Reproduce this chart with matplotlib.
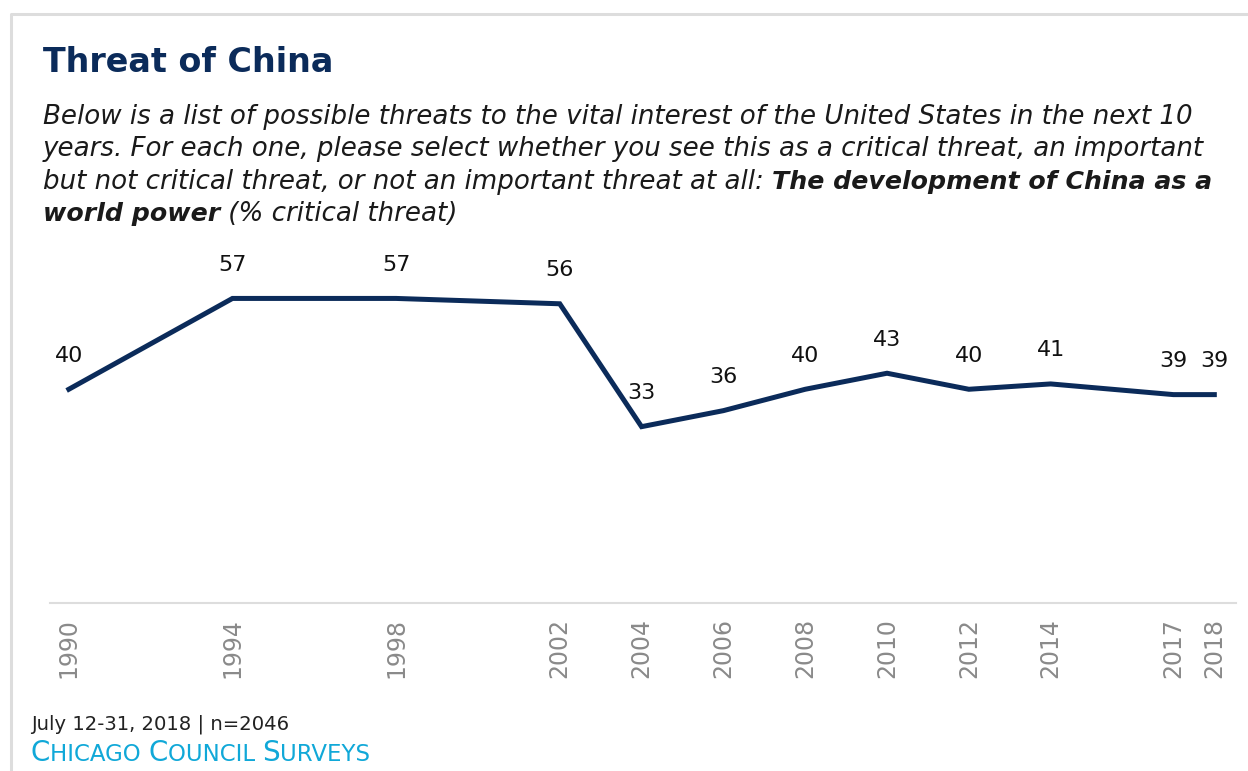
import matplotlib
matplotlib.use("Agg")
import matplotlib.pyplot as plt
from matplotlib.lines import Line2D

years = [1990, 1994, 1998, 2002, 2004, 2006, 2008, 2010, 2012, 2014, 2017, 2018]
critical = [40, 57, 57, 56, 33, 36, 40, 43, 40, 41, 39, 39]

navy = "#0b2b5a"
cyan = "#10a8d8"
W, H = 1248, 771

plt.rcParams["font.family"] = ["DejaVu Sans"]
fig = plt.figure(figsize=(W / 100, H / 100), dpi=100)
renderer = fig.canvas.get_renderer()


def px(x, y):
    # pixel coords (top-left origin) -> figure fraction
    return x / W, 1 - y / H


def runs(x, y, parts, **kw):
    # draw consecutive text pieces on one baseline
    for s, style in parts:
        t = fig.text(*px(x, y), s, va="baseline", ha="left", **style, **kw)
        x += t.get_window_extent(renderer).width
    return x


# frame
fig.add_artist(Line2D([11 / W, 11 / W, 1], [0, 1 - 14 / H, 1 - 14 / H],
                      transform=fig.transFigure, color="#dddddd", lw=2.2))

fig.text(*px(43, 72), "Threat of China", fontsize=24, fontweight="bold",
         color=navy, va="baseline")

# subtitle: italic with a bold-italic phrase
it = dict(style="italic", fontsize=18.8)
bi = dict(style="italic", fontweight="bold", fontsize=18.2)
ink = "#1a1a1a"
runs(43, 124, [("Below is a list of possible threats to the vital interest of the United States in the next 10", it)], color=ink)
runs(43, 156, [("years. For each one, please select whether you see this as a critical threat, an important", it)], color=ink)
runs(43, 189, [("but not critical threat, or not an important threat at all: ", it),
               ("The development of China as a", bi)], color=ink)
runs(43, 221, [("world power", bi), (" (% critical threat)", it)], color=ink)

# chart
ax = fig.add_axes([50 / W, 1 - 603 / H, (1236 - 50) / W, (603 - 245) / H])
ax.plot(years, critical, color=navy, lw=3.6, solid_joinstyle="miter")
ax.set_xlim(1989.54, 2018.53)
ax.set_ylim(0, 67)
for yr, v in zip(years, critical):
    ax.annotate(str(v), (yr, v), xytext=(0, 17), textcoords="offset points",
                ha="center", va="bottom", fontsize=16, color="#111111")
ax.set_xticks(years)
ax.set_xticklabels([str(y) for y in years], rotation=90, fontsize=17, color="#8a8a8a")
ax.tick_params(axis="x", length=0, pad=11)
ax.set_yticks([])
for s in ["top", "right", "left"]:
    ax.spines[s].set_visible(False)
ax.spines["bottom"].set_color("#dddddd")
ax.spines["bottom"].set_linewidth(1.5)

# footer
fig.text(*px(31, 729), "July 12-31, 2018 | n=2046", fontsize=14.1, color="#222222",
         va="baseline")
x = 31
for word in ["Chicago", "Council", "Surveys"]:
    x = runs(x, 761, [(word[0], dict(fontsize=20)),
                      (word[1:].upper() + " ", dict(fontsize=16.5))], color=cyan)

fig.savefig("out.png", dpi=100)
